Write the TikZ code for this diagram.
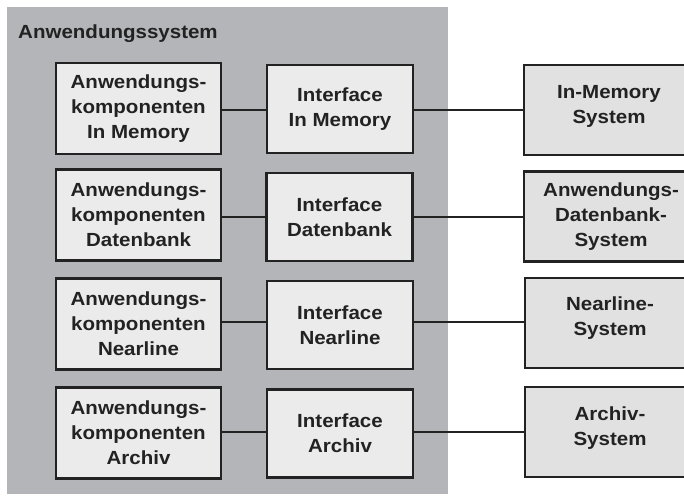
\documentclass[tikz,border=0pt]{standalone}
\usepackage{fontspec}
\setmainfont[FakeStretch=1.08]{Liberation Sans}
\definecolor{panelgray}{HTML}{B4B5B9}
\definecolor{boxfill}{HTML}{EBEBEB}
\definecolor{sysfill}{HTML}{E1E1E1}
\definecolor{ink}{HTML}{222222}
\tikzset{
  compbox/.style={draw=ink, line width=2.4pt, fill=boxfill, minimum width=165pt, minimum height=91pt, inner sep=0pt, align=center, text=ink, font=\bfseries\fontsize{19}{25}\selectfont},
  ifbox/.style={compbox, minimum width=146pt, minimum height=88pt},
  sysbox/.style={draw=ink, line width=2.4pt, fill=sysfill, minimum width=170pt, minimum height=90pt, inner sep=0pt, anchor=west},
  systext/.style={align=center, text=ink, font=\bfseries\fontsize{19}{25}\selectfont},
  conn/.style={draw=ink, line width=1.6pt},
  titletext/.style={anchor=base west, text=ink, font=\bfseries\fontsize{19}{23}\selectfont, inner sep=0pt}
}
\begin{document}
\begin{tikzpicture}[x=1pt,y=-1pt]
\useasboundingbox (0,0) rectangle (684,496);
\fill[white] (0,0) rectangle (684,496);
\fill[panelgray] (7,7) rectangle (448,494);
\node[titletext] (title) at (18,38) {Anwendungssystem};

% row 1
\node[compbox] (a1) at (138.5,108.5) {Anwendungs-\\komponenten\\In Memory};
\node[ifbox] (i1) at (340,109) {Interface\\In Memory};
\node[sysbox] (s1) at (523,110) {};
\node[systext] (t1) at (609,106) {In-Memory\\System};
% row 2
\node[compbox] (a2) at (138.5,215) {Anwendungs-\\komponenten\\Datenbank};
\node[ifbox] (i2) at (339.5,217) {Interface\\Datenbank};
\node[sysbox] (s2) at (523,216.5) {};
\node[systext] (t2) at (611,217) {Anwendungs-\\Datenbank-\\System};
% row 3
\node[compbox] (a3) at (138.5,324) {Anwendungs-\\komponenten\\Nearline};
\node[ifbox] (i3) at (340,325) {Interface\\Nearline};
\node[sysbox] (s3) at (524,323) {};
\node[systext] (t3) at (610,318) {Nearline-\\System};
% row 4
\node[compbox] (a4) at (138.5,433) {Anwendungs-\\komponenten\\Archiv};
\node[ifbox] (i4) at (340,433.5) {Interface\\Archiv};
\node[sysbox] (s4) at (524,432) {};
\node[systext] (t4) at (610,428) {Archiv-\\System};

% connectors
\foreach \r/\y in {1/110,2/217,3/322,4/432}{
  \draw[conn] (a\r.east |- 0,\y) -- (i\r.west |- 0,\y);
  \draw[conn] (i\r.east |- 0,\y) -- (s\r.west |- 0,\y);
}
\end{tikzpicture}
\end{document}
